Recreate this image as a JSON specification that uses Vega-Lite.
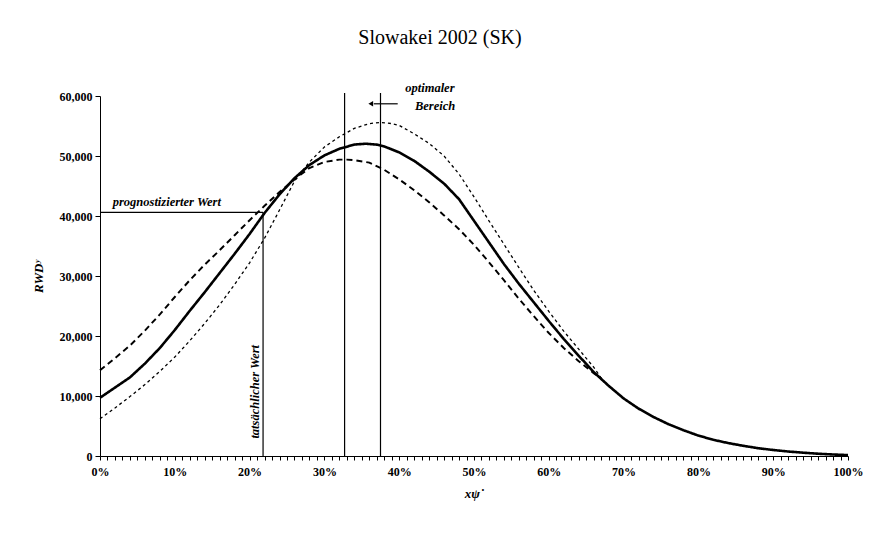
{
  "$schema": "https://vega.github.io/schema/vega-lite/v6.json",
  "width": 748,
  "height": 360,
  "autosize": "none",
  "padding": {"left": 100, "top": 96, "right": 32, "bottom": 79},
  "background": "white",
  "config": {
    "view": {"stroke": null},
    "font": "Liberation Serif",
    "axis": {
      "labelFont": "Liberation Serif",
      "labelFontWeight": "bold",
      "labelFontSize": 12,
      "labelColor": "black",
      "titleFont": "Liberation Serif",
      "titleFontWeight": "bold",
      "titleFontStyle": "italic",
      "titleFontSize": 13,
      "titleColor": "black",
      "domainColor": "black",
      "tickColor": "black",
      "grid": false
    }
  },
  "title": {
    "text": "Slowakei 2002 (SK)",
    "font": "Liberation Serif",
    "fontSize": 20,
    "fontWeight": "normal",
    "color": "black",
    "anchor": "middle",
    "frame": "group",
    "dx": -34,
    "offset": 18,
    "baseline": "alphabetic"
  },
  "datasets": {
    "curves": [
      {"x": 0, "s": "mitte", "v": 9700}, {"x": 0.02, "s": "mitte", "v": 11400}, {"x": 0.04, "s": "mitte", "v": 13100},
      {"x": 0.06, "s": "mitte", "v": 15400}, {"x": 0.08, "s": "mitte", "v": 18000}, {"x": 0.10, "s": "mitte", "v": 21000},
      {"x": 0.12, "s": "mitte", "v": 24200}, {"x": 0.14, "s": "mitte", "v": 27300}, {"x": 0.16, "s": "mitte", "v": 30500},
      {"x": 0.18, "s": "mitte", "v": 33700}, {"x": 0.20, "s": "mitte", "v": 37000}, {"x": 0.22, "s": "mitte", "v": 40500},
      {"x": 0.24, "s": "mitte", "v": 43600}, {"x": 0.26, "s": "mitte", "v": 46300}, {"x": 0.28, "s": "mitte", "v": 48500},
      {"x": 0.30, "s": "mitte", "v": 50100}, {"x": 0.32, "s": "mitte", "v": 51200}, {"x": 0.34, "s": "mitte", "v": 51900},
      {"x": 0.355, "s": "mitte", "v": 52050}, {"x": 0.37, "s": "mitte", "v": 51900}, {"x": 0.38, "s": "mitte", "v": 51600},
      {"x": 0.40, "s": "mitte", "v": 50600}, {"x": 0.42, "s": "mitte", "v": 49200}, {"x": 0.44, "s": "mitte", "v": 47400},
      {"x": 0.46, "s": "mitte", "v": 45400}, {"x": 0.48, "s": "mitte", "v": 42800}, {"x": 0.50, "s": "mitte", "v": 39200},
      {"x": 0.52, "s": "mitte", "v": 35600}, {"x": 0.54, "s": "mitte", "v": 32000}, {"x": 0.56, "s": "mitte", "v": 28700},
      {"x": 0.58, "s": "mitte", "v": 25600}, {"x": 0.60, "s": "mitte", "v": 22500}, {"x": 0.62, "s": "mitte", "v": 19500},
      {"x": 0.64, "s": "mitte", "v": 16700}, {"x": 0.66, "s": "mitte", "v": 14000}, {"x": 0.68, "s": "mitte", "v": 11700},
      {"x": 0.70, "s": "mitte", "v": 9600}, {"x": 0.72, "s": "mitte", "v": 7900}, {"x": 0.74, "s": "mitte", "v": 6500},
      {"x": 0.76, "s": "mitte", "v": 5300}, {"x": 0.78, "s": "mitte", "v": 4300}, {"x": 0.80, "s": "mitte", "v": 3400},
      {"x": 0.82, "s": "mitte", "v": 2700}, {"x": 0.84, "s": "mitte", "v": 2150}, {"x": 0.86, "s": "mitte", "v": 1700},
      {"x": 0.88, "s": "mitte", "v": 1300}, {"x": 0.90, "s": "mitte", "v": 1000}, {"x": 0.92, "s": "mitte", "v": 750},
      {"x": 0.94, "s": "mitte", "v": 550}, {"x": 0.96, "s": "mitte", "v": 380}, {"x": 0.98, "s": "mitte", "v": 250},
      {"x": 1.00, "s": "mitte", "v": 150},

      {"x": 0, "s": "a", "v": 14300}, {"x": 0.02, "s": "a", "v": 16300}, {"x": 0.04, "s": "a", "v": 18400},
      {"x": 0.06, "s": "a", "v": 20900}, {"x": 0.08, "s": "a", "v": 23600}, {"x": 0.10, "s": "a", "v": 26500},
      {"x": 0.12, "s": "a", "v": 29300}, {"x": 0.14, "s": "a", "v": 31900}, {"x": 0.16, "s": "a", "v": 34300},
      {"x": 0.18, "s": "a", "v": 36800}, {"x": 0.20, "s": "a", "v": 39300}, {"x": 0.22, "s": "a", "v": 41700},
      {"x": 0.24, "s": "a", "v": 44000}, {"x": 0.26, "s": "a", "v": 46100}, {"x": 0.28, "s": "a", "v": 48000},
      {"x": 0.30, "s": "a", "v": 49000}, {"x": 0.32, "s": "a", "v": 49400}, {"x": 0.33, "s": "a", "v": 49400},
      {"x": 0.34, "s": "a", "v": 49300}, {"x": 0.36, "s": "a", "v": 48900}, {"x": 0.38, "s": "a", "v": 47700},
      {"x": 0.40, "s": "a", "v": 46100}, {"x": 0.42, "s": "a", "v": 44300}, {"x": 0.44, "s": "a", "v": 42300},
      {"x": 0.46, "s": "a", "v": 40100}, {"x": 0.48, "s": "a", "v": 37800}, {"x": 0.50, "s": "a", "v": 35200},
      {"x": 0.52, "s": "a", "v": 32300}, {"x": 0.54, "s": "a", "v": 29300}, {"x": 0.56, "s": "a", "v": 26200},
      {"x": 0.58, "s": "a", "v": 23300}, {"x": 0.60, "s": "a", "v": 20500}, {"x": 0.62, "s": "a", "v": 18000},
      {"x": 0.64, "s": "a", "v": 15800}, {"x": 0.66, "s": "a", "v": 13800}, {"x": 0.67, "s": "a", "v": 12900},

      {"x": 0, "s": "b", "v": 6200}, {"x": 0.02, "s": "b", "v": 8000}, {"x": 0.04, "s": "b", "v": 9900},
      {"x": 0.06, "s": "b", "v": 11900}, {"x": 0.08, "s": "b", "v": 14100}, {"x": 0.10, "s": "b", "v": 16500},
      {"x": 0.12, "s": "b", "v": 19200}, {"x": 0.14, "s": "b", "v": 22100}, {"x": 0.16, "s": "b", "v": 25200},
      {"x": 0.18, "s": "b", "v": 28600}, {"x": 0.20, "s": "b", "v": 32200}, {"x": 0.22, "s": "b", "v": 36300},
      {"x": 0.24, "s": "b", "v": 41000}, {"x": 0.26, "s": "b", "v": 45800}, {"x": 0.28, "s": "b", "v": 49000},
      {"x": 0.30, "s": "b", "v": 51500}, {"x": 0.32, "s": "b", "v": 53200}, {"x": 0.34, "s": "b", "v": 54600},
      {"x": 0.36, "s": "b", "v": 55400}, {"x": 0.375, "s": "b", "v": 55600}, {"x": 0.39, "s": "b", "v": 55400},
      {"x": 0.40, "s": "b", "v": 55100}, {"x": 0.42, "s": "b", "v": 53700}, {"x": 0.44, "s": "b", "v": 52100},
      {"x": 0.46, "s": "b", "v": 50000}, {"x": 0.48, "s": "b", "v": 47000}, {"x": 0.50, "s": "b", "v": 43200},
      {"x": 0.52, "s": "b", "v": 39200}, {"x": 0.54, "s": "b", "v": 35300}, {"x": 0.56, "s": "b", "v": 31400},
      {"x": 0.58, "s": "b", "v": 27600}, {"x": 0.60, "s": "b", "v": 24100}, {"x": 0.62, "s": "b", "v": 20800},
      {"x": 0.64, "s": "b", "v": 17800}, {"x": 0.66, "s": "b", "v": 14800}, {"x": 0.67, "s": "b", "v": 13000}
    ],
    "vlines": [
      {"x": 0.218, "y": 0, "y2": 40600},
      {"x": 0.327, "y": 0, "y2": 60500},
      {"x": 0.375, "y": 0, "y2": 60500}
    ],
    "hlines": [
      {"x": 0, "x2": 0.218, "y": 40600},
      {"x": 0.366, "x2": 0.398, "y": 58700}
    ],
    "arrowhead": [
      {"x": 0.362, "y": 58700}
    ],
    "leftlabels": [
      {"x": 0.017, "y": 42400, "t": "prognostizierter Wert"}
    ],
    "labels": [
      {"x": 0.441, "y": 61300, "t": "optimaler"},
      {"x": 0.448, "y": 58300, "t": "Bereich"}
    ],
    "vlabels": [
      {"x": 0.207, "y": 10700, "t": "tatsächlicher Wert"}
    ]
  },
  "layer": [
    {
      "data": {"name": "curves"},
      "mark": {"type": "line", "color": "black", "clip": false},
      "encoding": {
        "x": {
          "field": "x", "type": "quantitative",
          "scale": {"domain": [0, 1], "nice": false},
          "axis": {
            "tickCount": 100,
            "labelExpr": "(round(datum.value*100) % 10 == 0) ? format(datum.value, '.0%') : ''",
            "labelOverlap": false,
            "labelFlush": false,
            "tickSize": 4,
            "labelPadding": 6,
            "title": "xψ˙",
            "titlePadding": 10
          }
        },
        "y": {
          "field": "v", "type": "quantitative",
          "scale": {"domain": [0, 60000], "nice": false},
          "axis": {
            "values": [0, 10000, 20000, 30000, 40000, 50000, 60000],
            "format": ",.0f",
            "tickSize": 5,
            "labelPadding": 3,
            "title": "RWDʸ",
            "titlePadding": 14
          }
        },
        "strokeDash": {
          "field": "s", "type": "nominal",
          "scale": {"domain": ["mitte", "a", "b"], "range": [[1, 0], [6, 4], [3, 3]]},
          "legend": null
        },
        "strokeWidth": {
          "field": "s", "type": "nominal",
          "scale": {"domain": ["mitte", "a", "b"], "range": [2.6, 1.3, 1.3]},
          "legend": null
        }
      }
    },
    {
      "data": {"name": "vlines"},
      "mark": {"type": "rule", "color": "black", "strokeWidth": 1.2, "clip": false},
      "encoding": {
        "x": {"field": "x", "type": "quantitative"},
        "y": {"field": "y", "type": "quantitative"},
        "y2": {"field": "y2"}
      }
    },
    {
      "data": {"name": "hlines"},
      "mark": {"type": "rule", "color": "black", "strokeWidth": 1.2, "clip": false},
      "encoding": {
        "x": {"field": "x", "type": "quantitative"},
        "x2": {"field": "x2"},
        "y": {"field": "y", "type": "quantitative"}
      }
    },
    {
      "data": {"name": "arrowhead"},
      "mark": {"type": "point", "shape": "triangle-left", "filled": true, "color": "black", "size": 30, "opacity": 1, "clip": false},
      "encoding": {
        "x": {"field": "x", "type": "quantitative"},
        "y": {"field": "y", "type": "quantitative"}
      }
    },
    {
      "data": {"name": "leftlabels"},
      "mark": {"type": "text", "font": "Liberation Serif", "fontStyle": "italic", "fontWeight": "bold", "fontSize": 12.5, "color": "black", "baseline": "middle", "align": "left", "clip": false},
      "encoding": {
        "x": {"field": "x", "type": "quantitative"},
        "y": {"field": "y", "type": "quantitative"},
        "text": {"field": "t"}
      }
    },
    {
      "data": {"name": "labels"},
      "mark": {"type": "text", "font": "Liberation Serif", "fontStyle": "italic", "fontWeight": "bold", "fontSize": 12.5, "color": "black", "baseline": "middle", "align": "center", "clip": false},
      "encoding": {
        "x": {"field": "x", "type": "quantitative"},
        "y": {"field": "y", "type": "quantitative"},
        "text": {"field": "t"}
      }
    },
    {
      "data": {"name": "vlabels"},
      "mark": {"type": "text", "font": "Liberation Serif", "fontStyle": "italic", "fontWeight": "bold", "fontSize": 12.5, "color": "black", "baseline": "middle", "align": "center", "angle": 270, "clip": false},
      "encoding": {
        "x": {"field": "x", "type": "quantitative"},
        "y": {"field": "y", "type": "quantitative"},
        "text": {"field": "t"}
      }
    }
  ]
}
